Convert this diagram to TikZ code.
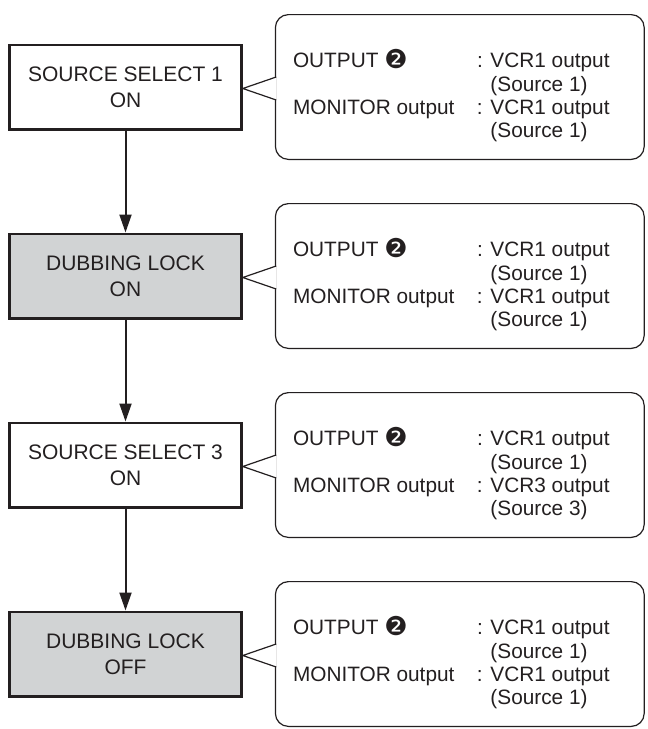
\documentclass[tikz,border=0pt]{standalone}
\usepackage{fontspec}
\setmainfont{Liberation Sans}
\newfontfamily\dingfont{DejaVu Sans}
\usetikzlibrary{positioning,arrows.meta}
\definecolor{tinta}{HTML}{231F20}
\definecolor{gris}{HTML}{D1D3D4}
\newcommand{\dos}{\raisebox{-0.5pt}{\dingfont\fontsize{26}{26}\selectfont ❷}}

\begin{document}
\begin{tikzpicture}[
  x=1pt, y=-1pt,
  paso/.style={draw=tinta, line width=2.6pt, minimum width=232pt, minimum height=84.4pt, align=center, text=tinta, font=\fontsize{21}{25.7}\selectfont},
  pasogris/.style={paso, fill=gris},
  globo/.style={draw=tinta, line width=1.2pt, rounded corners=13pt, minimum width=368.8pt, minimum height=144.8pt},
  texto/.style={anchor=base west, inner sep=0pt, text=tinta, font=\fontsize{20.8}{23.3}\selectfont},
  flecha/.style={draw=tinta, line width=2pt, -{Triangle[length=18pt,width=12pt]}},
  pico/.style={draw=tinta, line width=1.2pt, fill=white}
]
\useasboundingbox (0,0) rectangle (648,729);

\node[paso] (s1) at (125.5,87) {SOURCE SELECT 1\\ON};
\node[pasogris, below=102pt of s1] (d1) {DUBBING LOCK\\ON};
\node[paso, below=102pt of d1] (s3) {SOURCE SELECT 3\\ON};
\node[pasogris, below=102pt of s3] (d2) {DUBBING LOCK\\OFF};

\draw[flecha] (s1) -- (d1);
\draw[flecha] (d1) -- (s3);
\draw[flecha] (s3) -- (d2);

\node[globo, right=32pt of s1] (g1) {};
\node[globo, right=32pt of d1] (g2) {};
\node[globo, right=32pt of s3] (g3) {};
\node[globo, right=32pt of d2] (g4) {};

\draw[pico] ([xshift=1.4pt,yshift=10pt]g1.west) -- ([yshift=-1.5pt]s1.east) -- ([xshift=1.4pt,yshift=-13pt]g1.west);
\draw[pico] ([xshift=1.4pt,yshift=10pt]g2.west) -- ([yshift=-1.5pt]d1.east) -- ([xshift=1.4pt,yshift=-13pt]g2.west);
\draw[pico] ([xshift=1.4pt,yshift=10pt]g3.west) -- ([yshift=-1.5pt]s3.east) -- ([xshift=1.4pt,yshift=-13pt]g3.west);
\draw[pico] ([xshift=1.4pt,yshift=10pt]g4.west) -- ([yshift=-1.5pt]d2.east) -- ([xshift=1.4pt,yshift=-13pt]g4.west);

\node[texto] (t1) at ([xshift=18pt,yshift=-53.7pt]g1.north west) {\begin{tabular}[t]{@{}p{184pt}@{}l@{}}
OUTPUT \dos & : VCR1 output\\ & \hphantom{: }(Source 1)\\
MONITOR output & : VCR1 output\\ & \hphantom{: }(Source 1)\end{tabular}};
\node[texto] (t2) at ([xshift=18pt,yshift=-53.7pt]g2.north west) {\begin{tabular}[t]{@{}p{184pt}@{}l@{}}
OUTPUT \dos & : VCR1 output\\ & \hphantom{: }(Source 1)\\
MONITOR output & : VCR1 output\\ & \hphantom{: }(Source 1)\end{tabular}};
\node[texto] (t3) at ([xshift=18pt,yshift=-53.7pt]g3.north west) {\begin{tabular}[t]{@{}p{184pt}@{}l@{}}
OUTPUT \dos & : VCR1 output\\ & \hphantom{: }(Source 1)\\
MONITOR output & : VCR3 output\\ & \hphantom{: }(Source 3)\end{tabular}};
\node[texto] (t4) at ([xshift=18pt,yshift=-53.7pt]g4.north west) {\begin{tabular}[t]{@{}p{184pt}@{}l@{}}
OUTPUT \dos & : VCR1 output\\ & \hphantom{: }(Source 1)\\
MONITOR output & : VCR1 output\\ & \hphantom{: }(Source 1)\end{tabular}};
\end{tikzpicture}
\end{document}
